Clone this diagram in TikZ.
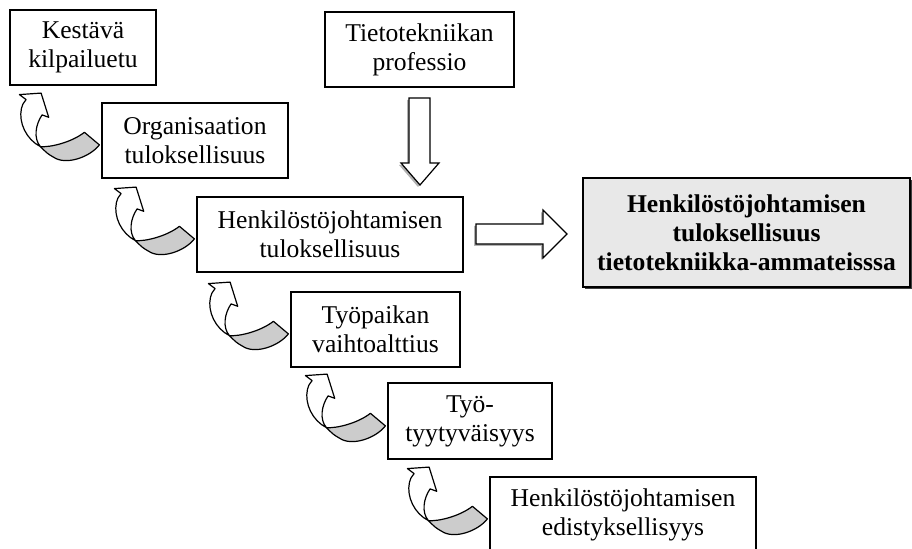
\documentclass[tikz,border=0pt]{standalone}
\usepackage{fontspec}
\setmainfont{Liberation Serif}
\usetikzlibrary{shadows}
\begin{document}
\begin{tikzpicture}[x=0.5pt,y=-0.5pt,
    laatikko/.style={draw,line width=0.6pt,align=center,inner sep=0pt,
      minimum height=37.5pt,font=\fontsize{12.8pt}{14.6pt}\selectfont},
    kaari/.pic={
      \filldraw[fill=gray!40,line width=0.6pt,line join=round]
        (-61,-32) .. controls (-52,-31) and (-30,-36) .. (-17,-46.3) to (-2,-33.7)
        .. controls (-12,-21) and (-36,-13) .. (-48,-21.5)
        .. controls (-54,-25) .. (-61,-32) -- cycle;
      \filldraw[fill=white,line width=0.6pt,line join=round]
        (-75.3,-79) to (-82,-84) to (-60.3,-85.5) to (-52.7,-61.3) to (-59.3,-63.7)
        .. controls (-66,-54) and (-68,-40) .. (-61,-32)
        .. controls (-75,-39) and (-83,-56) .. (-80,-70)
        .. controls (-79,-74) .. (-75.3,-79) -- cycle;
    }]
  \path[use as bounding box,clip] (0,0) rectangle (912,549);
  % laatikot
  \node[laatikko,minimum width=73pt] (kilpailu) at (83,47.5) {Kestävä\\kilpailuetu};
  \node[laatikko,minimum width=93pt] (organisaatio) at (195,140.5) {Organisaation\\tuloksellisuus};
  \node[laatikko,minimum width=94.5pt] (professio) at (419.5,49.5) {Tietotekniikan\\professio};
  \node[laatikko,minimum width=133pt] (tulos) at (330,234.5) {Henkilöstöjohtamisen\\tuloksellisuus};
  \node[laatikko,minimum width=84.5pt] (vaihto) at (375.5,329.5) {Työpaikan\\vaihtoalttius};
  \node[laatikko,minimum width=82pt,minimum height=38pt] (tyytyvaisyys) at (470,421) {Työ-\\tyytyväisyys};
  \node[laatikko,minimum width=133pt] (edistys) at (623,514.5) {Henkilöstöjohtamisen\\edistyksellisyys};
  \node[laatikko,minimum width=163.5pt,minimum height=54.5pt,fill=gray!18,
    font=\fontsize{12.8pt}{14.6pt}\selectfont\bfseries,
    drop shadow={shadow xshift=1.2pt,shadow yshift=-1.2pt,fill=black!75,opacity=1}]
    (paatulos) at (746.5,232.5) {Henkilöstöjohtamisen\\tuloksellisuus\\tietotekniikka-ammateisssa};
  % kaarinuolet
  \foreach \b in {organisaatio,tulos,vaihto,tyytyvaisyys,edistys}
    \pic at (\b.south west) {kaari};
  % suorat nuolet
  \fill[gray!60] (407,100) to (428,100) to (428,165) to (437,165) to (418,187)
    to (399,165) to (407,165) -- cycle;
  \draw[fill=white,line width=0.6pt] (409,98) to (430,98) to (430,163) to (439,163)
    to (420,185) to (401,163) to (409,163) -- cycle;
  \fill[gray!60] (474,226) to (541,226) to (541,212) to (565,236) to (541,260)
    to (541,246) to (474,246) -- cycle;
  \draw[fill=white,line width=0.6pt] (476,224) to (543,224) to (543,210) to (567,234)
    to (543,258) to (543,244) to (476,244) -- cycle;
\end{tikzpicture}
\end{document}
